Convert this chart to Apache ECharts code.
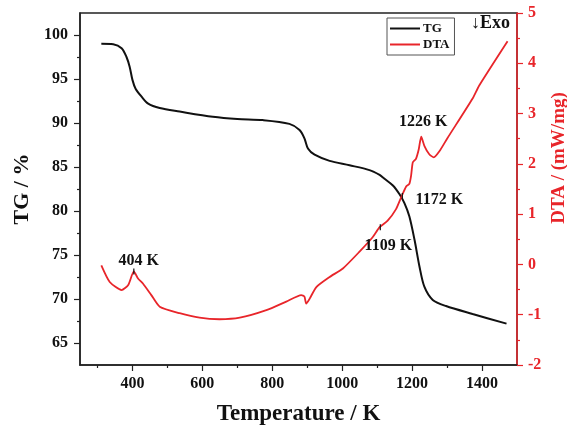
<!DOCTYPE html>
<html>
<head>
<meta charset="utf-8">
<script src="https://cdn.jsdelivr.net/npm/echarts@6/dist/echarts.min.js"></script>
<style>
  html, body { margin: 0; padding: 0; background: #fff; }
  #main { width: 567px; height: 430px; }
</style>
</head>
<body>
<div id="main"></div>
<script>
// TG curve: temperature (K) / mass (%)
var tgTemp = [311, 345, 369, 383, 392, 400, 409, 426, 445, 478, 535, 630, 700, 773, 849, 878, 892, 902, 921, 964, 1021, 1078, 1107, 1120, 1145, 1164, 1178, 1192, 1207, 1221, 1235, 1259, 1297, 1373, 1470];
var tgMass = [99.0, 98.95, 98.5, 97.5, 96.4, 94.9, 93.9, 93.0, 92.2, 91.7, 91.3, 90.7, 90.45, 90.33, 89.9, 89.2, 88.25, 87.1, 86.4, 85.7, 85.2, 84.65, 84.1, 83.7, 82.9, 81.9, 80.9, 79.4, 76.7, 73.7, 71.4, 69.9, 69.2, 68.3, 67.2];

// DTA curve: temperature (K) / heat flow (mW/mg)
var dtaTemp = [311, 335, 369, 388, 404, 416, 430, 454, 478, 535, 592, 649, 707, 783, 840, 883, 892, 897, 907, 926, 964, 1002, 1049, 1087, 1107, 1130, 1154, 1169, 1183, 1192, 1197, 1202, 1211, 1219, 1226, 1235, 1249, 1262, 1278, 1300, 1373, 1392, 1473];
var dtaFlow = [-0.02, -0.35, -0.51, -0.41, -0.14, -0.28, -0.38, -0.61, -0.84, -0.97, -1.06, -1.09, -1.06, -0.91, -0.74, -0.61, -0.64, -0.78, -0.68, -0.45, -0.25, -0.08, 0.25, 0.54, 0.74, 0.87, 1.1, 1.34, 1.55, 1.6, 1.76, 2.03, 2.1, 2.29, 2.54, 2.36, 2.19, 2.13, 2.25, 2.5, 3.3, 3.56, 4.44];

// marked DTA points
var peakTemp = [404, 1109, 1172, 1226];
var peakFlow = [-0.14, 0.74, 1.36, 2.54];
var peakText = ['404 K', '1109 K', '1172 K', '1226 K'];

// tick values
var xMajor = [400, 600, 800, 1000, 1200, 1400];
var xMinor = [300, 500, 700, 900, 1100, 1300];
var tgMajor = [65, 70, 75, 80, 85, 90, 95, 100];
var tgMinor = [67.5, 72.5, 77.5, 82.5, 87.5, 92.5, 97.5];

var RED = '#e8252a';
var INK = '#111';
var SERIF = '"Liberation Serif", "DejaVu Serif", serif';

function zip(a, b) {
  return a.map(function (v, i) { return [v, b[i]]; });
}

// label offsets for the peak texts (pixels)
var peakOffset = [[5, -11], [8, 19], [37, 4], [2, -15]];
var peakTick = [true, true, true, false];

var markData = peakTemp.map(function (t, i) {
  return {
    coord: [t, peakFlow[i]],
    symbol: 'rect',
    symbolSize: peakTick[i] ? [1.2, 6] : 0,
    itemStyle: { color: INK },
    label: {
      show: true,
      formatter: peakText[i],
      position: 'inside',
      offset: peakOffset[i],
      color: INK,
      fontFamily: SERIF,
      fontWeight: 'bold',
      fontSize: 16
    }
  };
});

var chart = echarts.init(document.getElementById('main'), null, { renderer: 'canvas' });

var plain = function (v) { return String(v); };

chart.setOption({
  animation: false,
  backgroundColor: '#fff',
  grid: {
    left: 80, right: 50, top: 13, bottom: 65,
    containLabel: false, outerBoundsMode: 'none',
    show: true, borderColor: '#222', borderWidth: 1.5
  },
  legend: {
    orient: 'vertical',
    left: 387, top: 18,
    padding: [4, 5, 4, 3],
    itemGap: 3,
    itemWidth: 30, itemHeight: 2,
    icon: 'rect',
    borderColor: '#555', borderWidth: 1,
    textStyle: { fontFamily: SERIF, fontWeight: 'bold', fontSize: 13, color: INK, padding: [0, 0, 0, -2] },
    data: ['TG', 'DTA']
  },
  graphic: [{
    type: 'text',
    left: 471, top: 14,
    style: { text: '↓Exo', fontFamily: SERIF, fontWeight: 'bold', fontSize: 18, fill: INK }
  }, {
    // right axis title
    type: 'text',
    x: 559, y: 158,
    rotation: Math.PI / 2,
    style: {
      text: 'DTA / (mW/mg)', fontFamily: SERIF, fontWeight: 'bold', fontSize: 19, fill: RED,
      align: 'center', verticalAlign: 'middle'
    }
  }],
  xAxis: [{
    type: 'value', min: 250, max: 1500, position: 'bottom',
    name: 'Temperature / K', nameLocation: 'middle', nameGap: 38,
    nameTextStyle: { fontFamily: SERIF, fontWeight: 'bold', fontSize: 23, color: INK },
    axisLine: { show: true, onZero: false, lineStyle: { color: '#222', width: 1.5 } },
    axisTick: { show: true, customValues: xMajor, length: 6, lineStyle: { color: '#222', width: 1.2 } },
    axisLabel: { customValues: xMajor, formatter: plain, margin: 11, fontFamily: SERIF, fontWeight: 'bold', fontSize: 16, color: INK },
    splitLine: { show: false }
  }, {
    type: 'value', min: 250, max: 1500, position: 'bottom',
    axisLine: { show: false, onZero: false },
    axisTick: { show: true, customValues: xMinor, length: 3, lineStyle: { color: '#222', width: 1.2 } },
    axisLabel: { show: false },
    splitLine: { show: false }
  }],
  yAxis: [{
    type: 'value', min: 62.5, max: 102.5, position: 'left',
    name: 'TG / %', nameLocation: 'middle', nameGap: 47, nameRotate: 90,
    nameTextStyle: { fontFamily: SERIF, fontWeight: 'bold', fontSize: 22, color: INK },
    axisLine: { show: true, onZero: false, lineStyle: { color: '#222', width: 1.5 } },
    axisTick: { show: true, customValues: tgMajor, length: 6, lineStyle: { color: '#222', width: 1.2 } },
    axisLabel: { customValues: tgMajor, formatter: plain, margin: 12, fontFamily: SERIF, fontWeight: 'bold', fontSize: 16, color: INK },
    splitLine: { show: false }
  }, {
    type: 'value', min: 62.5, max: 102.5, position: 'left',
    axisLine: { show: false, onZero: false },
    axisTick: { show: true, customValues: tgMinor, length: 3, lineStyle: { color: '#222', width: 1.2 } },
    axisLabel: { show: false },
    splitLine: { show: false }
  }, {
    type: 'value', min: -2, max: 5, interval: 1, position: 'right',
    axisLine: { show: true, onZero: false, lineStyle: { color: RED, width: 1.5 } },
    axisTick: { show: true, length: 6, lineStyle: { color: RED, width: 1.2 } },
    minorTick: { show: true, splitNumber: 2, length: 3, lineStyle: { color: RED, width: 1.2 } },
    axisLabel: { margin: 11, fontFamily: SERIF, fontWeight: 'bold', fontSize: 16, color: RED },
    splitLine: { show: false }
  }],
  series: [{
    name: 'TG', type: 'line', xAxisIndex: 0, yAxisIndex: 0,
    data: zip(tgTemp, tgMass),
    smooth: 0.3, showSymbol: false,
    lineStyle: { color: INK, width: 2 },
    itemStyle: { color: INK }
  }, {
    name: 'DTA', type: 'line', xAxisIndex: 0, yAxisIndex: 2,
    data: zip(dtaTemp, dtaFlow),
    smooth: 0.2, showSymbol: false,
    lineStyle: { color: RED, width: 1.8 },
    itemStyle: { color: RED },
    markPoint: { silent: true, data: markData }
  }]
});
</script>
</body>
</html>
